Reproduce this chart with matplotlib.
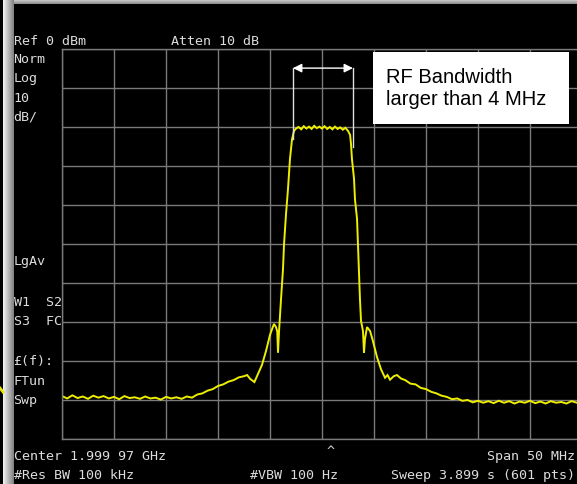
import matplotlib.pyplot as plt
import numpy as np
from matplotlib.patches import Rectangle

# frequency offset from center (MHz) and trace level (dBm)
freq = [-25, -24.5, -24, -23.5, -23, -22.5, -22, -21.5, -21, -20.5, -20, -19.5,
        -19, -18.5, -18, -17.5, -17, -16.5, -16, -15.5, -15, -14.5, -14, -13.5,
        -13, -12.5, -12, -11.5, -11, -10.5, -10, -9.5, -9, -8.5, -8, -7.5, -7.2,
        -6.9, -6.5, -6.15, -5.77, -5.38, -5.0, -4.62, -4.42, -4.3, -4.23, -4.13,
        -3.94, -3.75, -3.65, -3.46, -3.27, -3.08, -2.88, -2.69, -2.5,
        -2.25, -2.0, -1.75, -1.5, -1.25, -1.0, -0.75, -0.5, -0.25, 0, 0.25, 0.5,
        0.75, 1.0, 1.25, 1.5, 1.75, 2.0, 2.25, 2.5,
        2.7, 2.79, 2.88, 3.08, 3.17, 3.37, 3.46, 3.56, 3.65, 3.75, 3.94, 4.04,
        4.13, 4.33, 4.62, 4.9, 5.29, 5.67, 6.06, 6.3, 6.54, 6.9, 7.21, 7.6, 8.0,
        8.5, 9.0, 9.5, 10.0, 10.5, 11.0, 11.5, 12.0, 12.5, 13.0, 13.5, 14.0, 14.5,
        15, 15.5, 16, 16.5, 17, 17.5, 18, 18.5, 19, 19.5, 20, 20.5, 21, 21.5, 22,
        22.5, 23, 23.5, 24, 24.5, 25]
level = [-89.0, -89.6, -88.8, -89.5, -89.1, -89.7, -88.9, -89.4, -89.0, -89.6, -89.2, -89.8,
         -89.0, -89.5, -89.3, -89.7, -89.1, -89.6, -89.4, -89.9, -89.2, -89.6, -89.3, -89.7,
         -89.1, -89.4, -88.6, -88.3, -87.6, -87.2, -86.4, -86.0, -85.3, -84.9, -84.2, -83.9, -83.6,
         -84.6, -85.4, -83.3, -81.0, -77.4, -73.3, -70.5, -71.3, -72.5, -77.8, -72.3,
         -64.1, -56.4, -50.0, -42.3, -35.9, -28.2, -23.1, -21.0, -20.4,
         -20.0, -20.6, -19.8, -20.4, -19.9, -20.5, -19.7, -20.3, -19.9, -20.4, -19.8, -20.5,
         -20.0, -20.6, -19.9, -20.5, -20.1, -20.7, -20.2, -21.0,
         -22.0, -24.4, -28.2, -33.3, -38.5, -43.6, -50.0, -56.4, -64.1, -69.7, -72.3, -77.9,
         -74.4, -71.3, -72.3, -74.9, -79.0, -82.1, -84.3, -83.6, -84.8, -83.9, -83.6, -84.5, -84.9,
         -85.8, -86.0, -86.9, -87.2, -87.9, -88.3, -88.9, -89.2, -89.8, -89.6, -90.2, -90.0, -90.6,
         -90.2, -90.7, -90.3, -90.8, -90.2, -90.7, -90.3, -90.9, -90.4, -90.7, -90.2, -90.8, -90.4, -90.9, -90.3,
         -90.7, -90.5, -90.9, -90.3, -90.7, -90.4]

# measured bandwidth markers (MHz) and arrow level (dBm)
bw_edges = [-2.79, 2.98]
bw_bottom = [-23.0, -25.0]
bw_arrow_level = -4.9

left_labels = [("Norm", 63), ("Log", 82), ("10", 102), ("dB/", 121),
               ("LgAv", 265), ("W1  S2", 306), ("S3  FC", 325),
               ("£(f):", 365), ("FTun", 385), ("Swp", 404)]

W, H = 577, 485
fig = plt.figure(figsize=(W / 100, H / 100), dpi=100, facecolor='black')

# bezel on the left and strip on top
bez = fig.add_axes([3 / W, 0, 11 / W, 1])
bez.imshow(np.linspace(0.95, 0.5, 20)[None, :], cmap='gray', vmin=0, vmax=1, aspect='auto')
bez.axis('off')
top = fig.add_axes([14 / W, 1 - 5 / H, 1, 5 / H])
top.imshow(np.linspace(0.85, 0.55, 10)[:, None], cmap='gray', vmin=0, vmax=1, aspect='auto')
top.axis('off')
fig.add_artist(plt.Line2D([0, 3 / W], [1 - 389 / H, 1 - 393 / H], color='#e8e800', lw=2))

ax = fig.add_axes([62 / W, 45 / H, 520 / W, 390 / H])
ax.set_facecolor('black')
ax.set_xlim(-25, 25)
ax.set_ylim(-100, 0)
ax.set_xticks(np.arange(-25, 26, 5))
ax.set_yticks(np.arange(-100, 1, 10))
ax.tick_params(length=0, labelbottom=False, labelleft=False)
ax.grid(color='#7a7a7a', lw=1.0)
for s in ax.spines.values():
    s.set_color('#7a7a7a')
    s.set_linewidth(1.0)

ax.plot(freq, level, color='#eeee00', lw=1.4, solid_joinstyle='miter')

for f, b in zip(bw_edges, bw_bottom):
    ax.plot([f, f], [bw_arrow_level, b], color='#e0e0e0', lw=1.0)
ax.annotate('', xy=(bw_edges[1], bw_arrow_level), xytext=(bw_edges[0], bw_arrow_level),
            arrowprops=dict(arrowstyle='<|-|>', color='white', lw=1.0,
                            mutation_scale=13, shrinkA=0, shrinkB=0))

fig.patches.append(Rectangle((373 / W, 1 - 125 / H), 196 / W, 72 / H,
                             transform=fig.transFigure, facecolor='white', edgecolor='none'))
fig.text(386 / W, 1 - 83 / H, "RF Bandwidth", family='Liberation Sans', fontsize=14.5,
         color='black', va='baseline')
fig.text(386 / W, 1 - 105 / H, "larger than 4 MHz", family='Liberation Sans', fontsize=14.5,
         color='black', va='baseline')

mono = dict(family='DejaVu Sans Mono', fontsize=9.6, color='#dcdcdc', va='baseline')
fig.text(13.5 / W, 1 - 45 / H, "Ref 0 dBm", **mono)
fig.text(171 / W, 1 - 45 / H, "Atten 10 dB", **mono)
for txt, y in left_labels:
    fig.text(13.5 / W, 1 - y / H, txt, **mono)
fig.text(13.5 / W, 1 - 460 / H, "Center 1.999 97 GHz", **mono)
fig.text(575 / W, 1 - 460 / H, "Span 50 MHz", ha='right', **mono)
fig.text(331 / W, 1 - 455 / H, "^", ha='center', **mono)
fig.text(13.5 / W, 1 - 479 / H, "#Res BW 100 kHz", **mono)
fig.text(250 / W, 1 - 479 / H, "#VBW 100 Hz", **mono)
fig.text(575 / W, 1 - 479 / H, "Sweep 3.899 s (601 pts)", ha='right', **mono)

fig.savefig('out.png', dpi=100, facecolor='black')
